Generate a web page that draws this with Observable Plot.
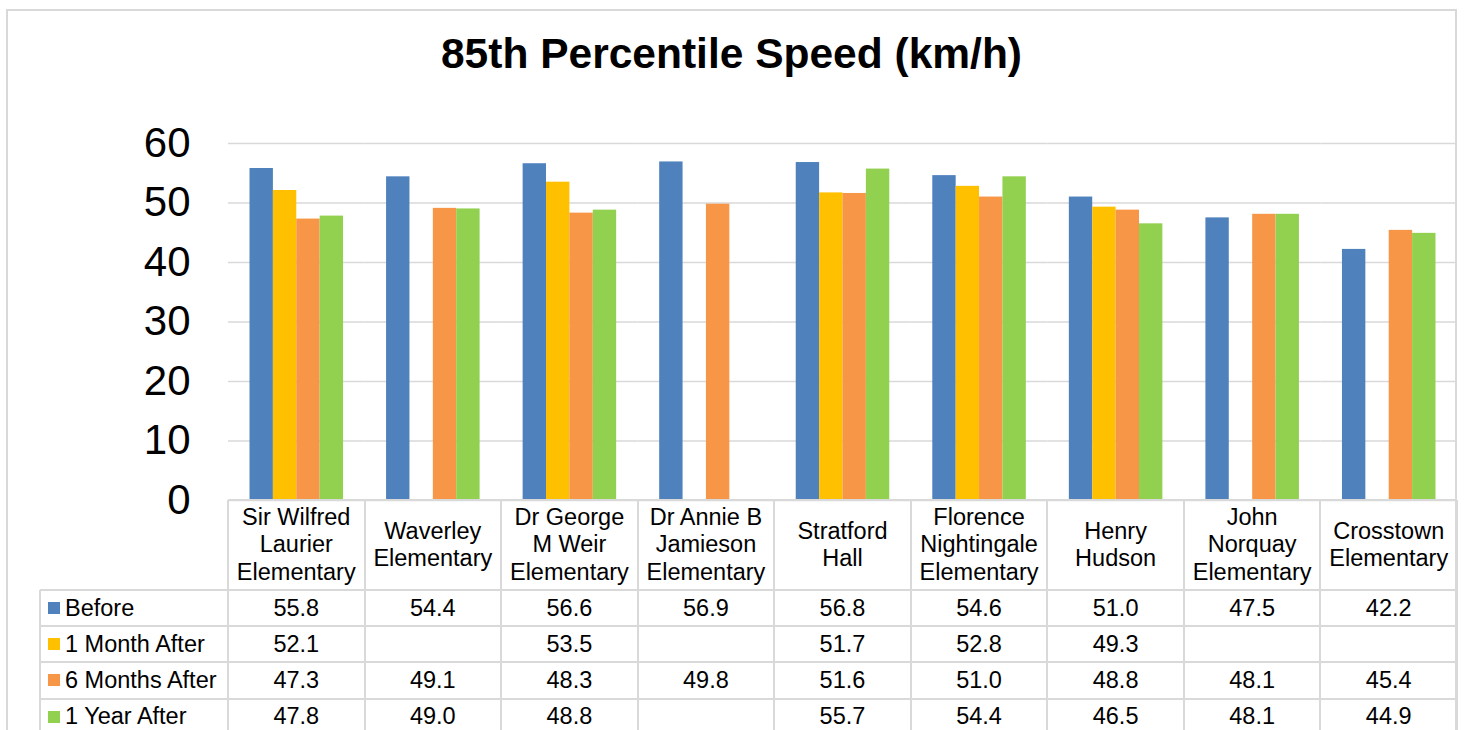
<!DOCTYPE html>
<html>
<head>
<meta charset="utf-8">
<script src="https://cdn.jsdelivr.net/npm/d3@7"></script>
<script src="https://cdn.jsdelivr.net/npm/@observablehq/plot@0.6"></script>
<style>
  html, body { margin: 0; padding: 0; background: white; }
  body { width: 1465px; height: 730px; position: relative; overflow: hidden; font-family: "Liberation Sans", Arial, sans-serif; }
  #chart { position: absolute; left: 0; top: 0; }
  #title { position: absolute; left: 6px; width: 1451px; top: 33px; text-align: center; font-size: 42.5px; line-height: 42px; font-weight: bold; color: #000; }
  #frame { position: absolute; left: 6px; top: 9px; width: 1451px; height: 760px; border: 2px solid #d9d9d9; box-sizing: border-box; pointer-events: none; }
  .hl { position: absolute; height: 2px; background: #d9d9d9; }
  .vl { position: absolute; width: 2px; background: #d9d9d9; }
  .cell { position: absolute; display: flex; align-items: center; justify-content: center; text-align: center; font-size: 23.5px; color: #000; white-space: nowrap; }
  .hdr { line-height: 27.5px; }
  .leg { justify-content: flex-start; }
  .sw { display: inline-block; width: 12px; height: 12px; margin-left: 8px; margin-right: 5px; }
</style>
</head>
<body>
<div id="chart"></div>
<div id="table"></div>
<div id="title">85th Percentile Speed (km/h)</div>
<div id="frame"></div>
<script>
// ---- data ----
const schools = [
  "Sir Wilfred Laurier Elementary",
  "Waverley Elementary",
  "Dr George M Weir Elementary",
  "Dr Annie B Jamieson Elementary",
  "Stratford Hall",
  "Florence Nightingale Elementary",
  "Henry Hudson",
  "John Norquay Elementary",
  "Crosstown Elementary"
];
const schoolLabelLines = [
  ["Sir Wilfred", "Laurier", "Elementary"],
  ["Waverley", "Elementary"],
  ["Dr George", "M Weir", "Elementary"],
  ["Dr Annie B", "Jamieson", "Elementary"],
  ["Stratford", "Hall"],
  ["Florence", "Nightingale", "Elementary"],
  ["Henry", "Hudson"],
  ["John", "Norquay", "Elementary"],
  ["Crosstown", "Elementary"]
];
const seriesNames = ["Before", "1 Month After", "6 Months After", "1 Year After"];
const seriesColors = ["#4f81bd", "#ffc000", "#f79646", "#92d050"];
const before      = [55.8, 54.4, 56.6, 56.9, 56.8, 54.6, 51.0, 47.5, 42.2];
const oneMonth    = [52.1, null, 53.5, null, 51.7, 52.8, 49.3, null, null];
const sixMonths   = [47.3, 49.1, 48.3, 49.8, 51.6, 51.0, 48.8, 48.1, 45.4];
const oneYear     = [47.8, 49.0, 48.8, null, 55.7, 54.4, 46.5, 48.1, 44.9];
const yTicks = [0, 10, 20, 30, 40, 50, 60];

const seriesValues = [before, oneMonth, sixMonths, oneYear];
const rows = [];
schools.forEach((s, i) => seriesNames.forEach((name, j) => {
  const v = seriesValues[j][i];
  if (v != null) rows.push({school: s, series: name, value: v});
}));

// ---- layout ----
const W = 1465, plotLeft = 228, plotRight = 1457, legendLeft = 40;
const axisY = 500, headerBottom = 590, rowH = 36.2;

const chart = Plot.plot({
  width: W,
  height: 530,
  marginLeft: plotLeft,
  marginRight: W - plotRight,
  marginTop: 143,
  marginBottom: 30,
  style: {fontSize: "42px", fontFamily: "'Liberation Sans', Arial, sans-serif", background: "transparent", color: "#000"},
  facet: {data: rows, x: "school"},
  fx: {domain: schools, padding: 0, round: false, axis: null},
  x: {domain: seriesNames, paddingInner: 0, paddingOuter: 0.92, round: false, axis: null},
  y: {domain: [0, 60], ticks: yTicks, tickSize: 0, tickPadding: 38, label: null},
  color: {domain: seriesNames, range: seriesColors},
  marks: [
    Plot.ruleY(yTicks, {stroke: "#d9d9d9", strokeWidth: 1.6}),
    Plot.barY(rows, {x: "series", y: "value", fill: "series"})
  ]
});
document.getElementById("chart").appendChild(chart);

// ---- data table ----
const table = document.getElementById("table");
const colW = (plotRight - plotLeft) / schools.length;
function add(cls, style, html) {
  const d = document.createElement("div");
  d.className = cls;
  Object.assign(d.style, style);
  if (html != null) d.innerHTML = html;
  table.appendChild(d);
  return d;
}
const tableBottom = headerBottom + rowH * seriesNames.length;
// header cells
schools.forEach((s, i) => {
  add("cell hdr", {left: (plotLeft + i * colW) + "px", top: axisY + "px", width: colW + "px", height: (headerBottom - axisY) + "px"},
      "<div>" + schoolLabelLines[i].join("<br>") + "</div>");
});
// data rows
seriesNames.forEach((name, j) => {
  const top = headerBottom + j * rowH;
  add("cell leg", {left: legendLeft + "px", top: top + "px", width: (plotLeft - legendLeft) + "px", height: rowH + "px"},
      '<span class="sw" style="background:' + seriesColors[j] + '"></span>' + name);
  schools.forEach((s, i) => {
    const v = seriesValues[j][i];
    add("cell", {left: (plotLeft + i * colW) + "px", top: top + "px", width: colW + "px", height: rowH + "px"},
        v == null ? "" : v.toFixed(1));
  });
});
// grid lines
add("hl", {left: plotLeft + "px", top: (axisY - 1) + "px", width: (plotRight - plotLeft) + "px"});
for (let j = 0; j <= seriesNames.length; j++) {
  const y = headerBottom + j * rowH;
  add("hl", {left: legendLeft + "px", top: (y - 1) + "px", width: (plotRight - legendLeft) + "px"});
}
for (let i = 0; i <= schools.length; i++) {
  const x = plotLeft + i * colW;
  add("vl", {left: (x - 1) + "px", top: axisY + "px", height: (tableBottom - axisY) + "px"});
}
add("vl", {left: (legendLeft - 1) + "px", top: headerBottom + "px", height: (tableBottom - headerBottom) + "px"});
</script>
</body>
</html>
